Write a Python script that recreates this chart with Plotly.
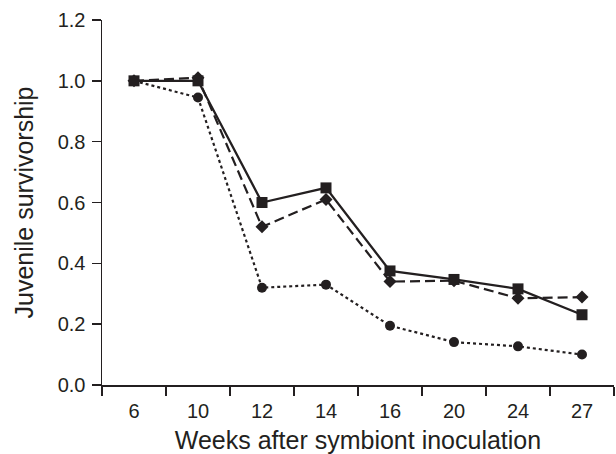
import plotly.graph_objects as go

weeks = ["6", "10", "12", "14", "16", "20", "24", "27"]
square_vals = [1.0, 1.0, 0.60, 0.648, 0.375, 0.347, 0.316, 0.231]
diamond_vals = [1.0, 1.01, 0.52, 0.61, 0.34, 0.343, 0.285, 0.289]
circle_vals = [1.0, 0.945, 0.32, 0.33, 0.195, 0.141, 0.127, 0.10]
y_ticks = [0.0, 0.2, 0.4, 0.6, 0.8, 1.0, 1.2]
y_tick_labels = ["0.0", "0.2", "0.4", "0.6", "0.8", "1.0", "1.2"]

ink = "#231f20"
font_family = "Liberation Sans, Arial, sans-serif"

fig = go.Figure()
fig.add_trace(go.Scatter(
    x=weeks, y=circle_vals, mode="lines+markers",
    line=dict(color=ink, width=2.2, dash="dot"),
    marker=dict(symbol="circle", size=10, color=ink),
    showlegend=False, cliponaxis=False, hoverinfo="skip"))
fig.add_trace(go.Scatter(
    x=weeks, y=diamond_vals, mode="lines+markers",
    line=dict(color=ink, width=2.2, dash="10px,5px"),
    marker=dict(symbol="diamond", size=10, color=ink),
    showlegend=False, cliponaxis=False, hoverinfo="skip"))
fig.add_trace(go.Scatter(
    x=weeks, y=square_vals, mode="lines+markers",
    line=dict(color=ink, width=2.3),
    marker=dict(symbol="square", size=11, color=ink),
    showlegend=False, cliponaxis=False, hoverinfo="skip"))

fig.update_layout(
    width=616, height=454,
    margin=dict(l=102, r=2, t=20, b=69),
    paper_bgcolor="white", plot_bgcolor="white",
    font=dict(family=font_family, color=ink),
    xaxis=dict(
        type="category", range=[-0.5, 7.5],
        showline=True, linecolor=ink, linewidth=1.5,
        ticks="outside", tickson="boundaries", ticklen=9, tickwidth=1.5, tickcolor=ink,
        showgrid=False, zeroline=False,
        tickfont=dict(size=20, color=ink), ticklabelstandoff=7,
        title=dict(text="Weeks after symbiont inoculation", font=dict(size=25, color=ink), standoff=13),
    ),
    yaxis=dict(
        range=[0, 1.2], tickmode="array", tickvals=y_ticks, ticktext=y_tick_labels,
        showline=True, linecolor=ink, linewidth=1.5,
        ticks="outside", ticklen=9, tickwidth=1.5, tickcolor=ink,
        showgrid=False, zeroline=False,
        tickfont=dict(size=20, color=ink), ticklabelstandoff=2,
        title=dict(text="Juvenile survivorship", font=dict(size=25, color=ink), standoff=17),
    ),
)

fig.write_html(
    "out.html",
    config={"displayModeBar": False, "staticPlot": True},
    post_script="document.body.style.margin='0';document.body.style.overflow='hidden';",
)
